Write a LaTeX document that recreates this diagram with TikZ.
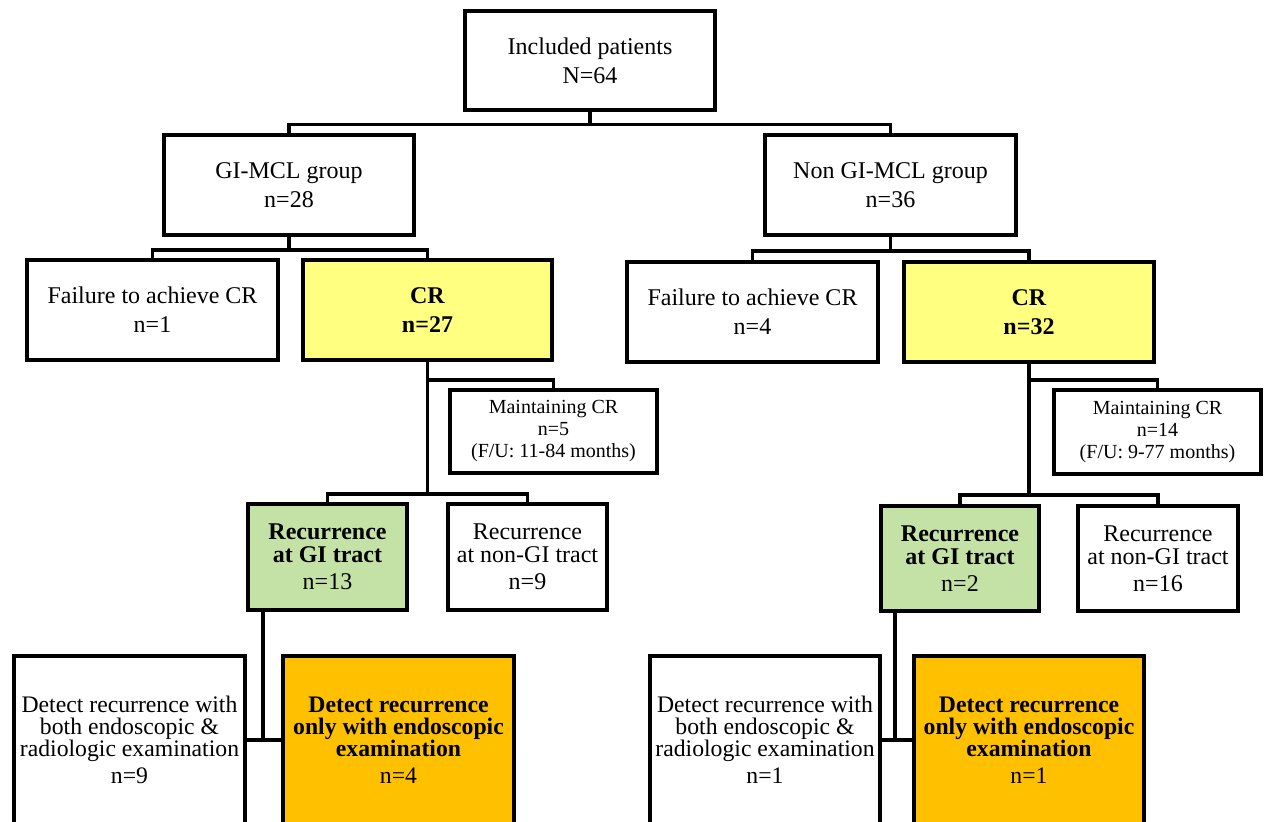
\documentclass[tikz,border=0pt]{standalone}
\usepackage{fontspec}
\setmainfont{Liberation Serif}
\definecolor{cryellow}{RGB}{255,255,128}
\definecolor{recgreen}{RGB}{197,226,166}
\definecolor{detorange}{RGB}{255,192,0}
\begin{document}
\begin{tikzpicture}[x=1pt,y=-1pt,
  box/.style={draw=black, line width=3.8pt, fill=white, align=center, inner sep=0pt,
    minimum width=250, minimum height=100, font=\fontsize{24}{29}\selectfont},
  mbox/.style={box, minimum width=207, minimum height=83, font=\fontsize{20}{22}\selectfont},
  rbox/.style={box, minimum width=159, minimum height=106, font=\fontsize{24}{23}\selectfont},
  dbox/.style={box, minimum width=231, minimum height=168, font=\fontsize{23.7}{22}\selectfont},
  conn/.style={line width=3.8pt, line join=miter}]
\useasboundingbox (0,0) rectangle (1267,822);
\clip (0,0) rectangle (1267,822);

% nodes
\node[box, minimum height=99] (top) at (590,60.5) {Included patients\\N=64};
\node[box] (gi) at (289,185) {GI-MCL group\\n=28};
\node[box, minimum width=251] (ngi) at (890.5,185) {Non GI-MCL group\\n=36};
\node[box, minimum width=251] (fail1) at (152.5,310) {Failure to achieve CR\\n=1};
\node[box, fill=cryellow, minimum width=249] (cr1) at (427.5,310) {\textbf{CR}\\\textbf{n=27}};
\node[box, minimum width=251] (fail2) at (752.5,312) {Failure to achieve CR\\n=4};
\node[box, fill=cryellow] (cr2) at (1029,312) {\textbf{CR}\\\textbf{n=32}};
\node[mbox] (main1) at (553.5,431.5) {Maintaining CR\\n=5\\(F/U: 11-84 months)};
\node[mbox, minimum height=84] (main2) at (1157.5,432) {Maintaining CR\\n=14\\(F/U: 9-77 months)};
\node[rbox, fill=recgreen] (rec1) at (327.5,557) {\textbf{Recurrence}\\\textbf{at GI tract}\\[4pt]n=13};
\node[rbox] (rnon1) at (527.5,557) {Recurrence\\at non-GI tract\\[4pt]n=9};
\node[rbox, fill=recgreen, minimum width=158, minimum height=105] (rec2) at (960,558.5) {\textbf{Recurrence}\\\textbf{at GI tract}\\[4pt]n=2};
\node[rbox, minimum width=160, minimum height=105] (rnon2) at (1158,558.5) {Recurrence\\at non-GI tract\\[4pt]n=16};
\node[dbox] (det1) at (129.5,740) {Detect recurrence with\\both endoscopic \&\\radiologic examination\\[5pt]n=9};
\node[dbox, fill=detorange] (or1) at (398.5,740) {\textbf{Detect recurrence}\\\textbf{only with endoscopic}\\\textbf{examination}\\[5pt]n=4};
\node[dbox, minimum width=230] (det2) at (765,740) {Detect recurrence with\\both endoscopic \&\\radiologic examination\\[5pt]n=1};
\node[dbox, fill=detorange, minimum width=230] (or2) at (1029,740) {\textbf{Detect recurrence}\\\textbf{only with endoscopic}\\\textbf{examination}\\[5pt]n=1};

% connectors
\draw[conn] (top.south) -- ++(0,12.5) -| (gi.north);
\draw[conn] (top.south) -- ++(0,12.5) -| (ngi.north);
\draw[conn] (gi.south) -- ++(0,13) -| (fail1.north);
\draw[conn] (gi.south) -- ++(0,13) -| (cr1.north);
\draw[conn] (ngi.south) -- ++(0,14) -| (fail2.north);
\draw[conn] (ngi.south) -- ++(0,14) -| (cr2.north);
\draw[conn] (cr1.south) -- ++(0,18) -| (main1.north);
\draw[conn] (cr1.south) -- ++(0,132) -| (rec1.north);
\draw[conn] (cr1.south) -- ++(0,132) -| (rnon1.north);
\draw[conn] (cr2.south) -- ++(0,16) -| (main2.north);
\draw[conn] (cr2.south) -- ++(0,131) -| (rec2.north);
\draw[conn] (cr2.south) -- ++(0,131) -| (rnon2.north);
\coordinate (j1) at (263,740);
\coordinate (j2) at (895,740);
\draw[conn] (rec1.south -| j1) -- (j1);
\draw[conn] (det1.east |- j1) -- (or1.west |- j1);
\draw[conn] (rec2.south -| j2) -- (j2);
\draw[conn] (det2.east |- j2) -- (or2.west |- j2);
\end{tikzpicture}
\end{document}
